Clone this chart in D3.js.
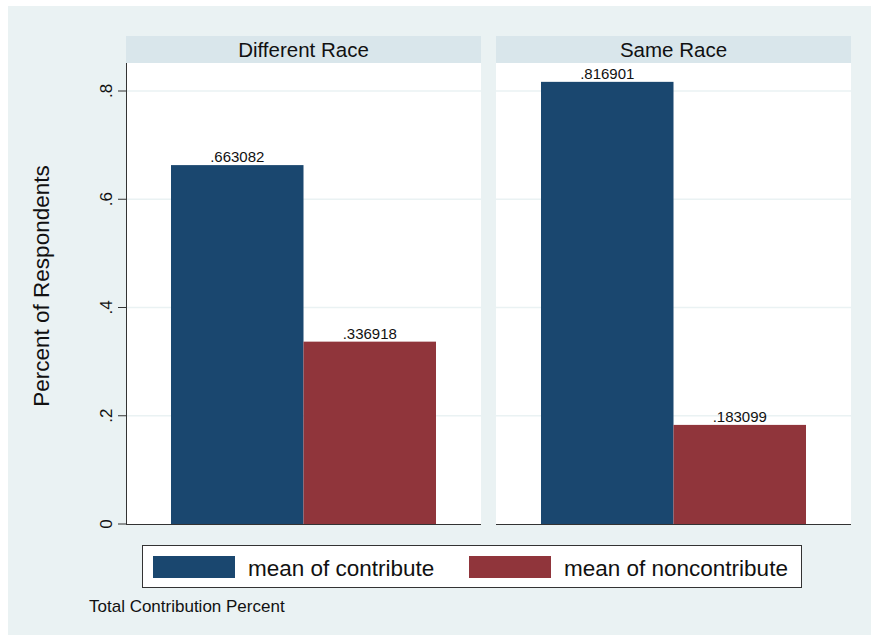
<!DOCTYPE html>
<html><head><meta charset="utf-8">
<script src="https://cdn.jsdelivr.net/npm/d3@7"></script>
<style>body{margin:0;background:#fff}svg{display:block;font-family:"Liberation Sans",Arial,sans-serif}</style>
</head><body><svg id="c" width="871" height="639"></svg>
<script>
const panels = ["Different Race", "Same Race"];
const seriesNames = ["mean of contribute", "mean of noncontribute"];
const contribute = [0.663082, 0.816901];
const noncontribute = [0.336918, 0.183099];
const valueLabels = [[".663082", ".336918"], [".816901", ".183099"]];
const yTicks = [0, 0.2, 0.4, 0.6, 0.8];
const yTickLabels = ["0", ".2", ".4", ".6", ".8"];
const colors = ["#1a476f", "#90353b"];

const svg = d3.select("#c");
svg.append("rect").attr("x", 8).attr("y", 6).attr("width", 863).attr("height", 629).attr("fill", "#eaf2f3");

const plotTop = 63, plotBottom = 524;
const y = d3.scaleLinear().domain([0, 0.8]).range([plotBottom, 91]);
const px = d3.scaleBand().domain(panels).range([126, 851]).paddingInner(15/370);

panels.forEach((p, i) => {
  const x0 = px(p), w = px.bandwidth();
  const g = svg.append("g");
  g.append("rect").attr("x", x0).attr("y", 36).attr("width", w).attr("height", plotTop - 36).attr("fill", "#d9e6eb");
  g.append("text").attr("x", x0 + w/2).attr("y", 56.5).attr("text-anchor", "middle").attr("font-size", 20.5).attr("fill", "#111").text(p);
  g.append("rect").attr("x", x0).attr("y", plotTop).attr("width", w).attr("height", plotBottom - plotTop).attr("fill", "#fff");
  yTicks.slice(1).forEach(t => {
    g.append("line").attr("x1", x0).attr("x2", x0 + w).attr("y1", y(t)).attr("y2", y(t)).attr("stroke", "#eaf2f3").attr("stroke-width", 1.5);
  });
  const bx = d3.scaleBand().domain(seriesNames).range([x0 + 45, x0 + w - 45]);
  const vals = [contribute[i], noncontribute[i]];
  seriesNames.forEach((s, j) => {
    g.append("rect").attr("x", bx(s)).attr("y", y(vals[j])).attr("width", bx.bandwidth()).attr("height", y(0) - y(vals[j])).attr("fill", colors[j]);
    g.append("text").attr("x", bx(s) + bx.bandwidth()/2).attr("y", y(vals[j]) - 3).attr("text-anchor", "middle").attr("font-size", 15).attr("fill", "#111").text(valueLabels[i][j]);
  });
  g.append("line").attr("x1", x0).attr("x2", x0 + w).attr("y1", plotBottom + 0.5).attr("y2", plotBottom + 0.5).attr("stroke", "#333").attr("stroke-width", 1);
});

// y axis
const ax = svg.append("g").attr("transform", "translate(126,0)");
ax.append("line").attr("x1", 0.5).attr("x2", 0.5).attr("y1", plotTop).attr("y2", plotBottom + 1).attr("stroke", "#333");
yTicks.forEach((t, k) => {
  ax.append("line").attr("x1", -8).attr("x2", 0).attr("y1", y(t)).attr("y2", y(t)).attr("stroke", "#333");
  ax.append("text").attr("transform", `translate(-14,${y(t)}) rotate(-90)`).attr("text-anchor", "middle").attr("font-size", 17).attr("fill", "#111").text(yTickLabels[k]);
});
svg.append("text").attr("transform", "translate(49,286) rotate(-90)").attr("text-anchor", "middle").attr("font-size", 22.5).attr("fill", "#111").text("Percent of Respondents");

// legend
const lg = svg.append("g");
lg.append("rect").attr("x", 142.5).attr("y", 545.5).attr("width", 659).attr("height", 42).attr("fill", "#fff").attr("stroke", "#333");
const lx = [153, 469];
seriesNames.forEach((s, j) => {
  lg.append("rect").attr("x", lx[j]).attr("y", 556).attr("width", 82).attr("height", 22).attr("fill", colors[j]);
  lg.append("text").attr("x", lx[j] + 95).attr("y", 575.5).attr("font-size", 22.5).attr("fill", "#111").text(s);
});
svg.append("text").attr("x", 89).attr("y", 612).attr("font-size", 17).attr("fill", "#111").text("Total Contribution Percent");
</script></body></html>
